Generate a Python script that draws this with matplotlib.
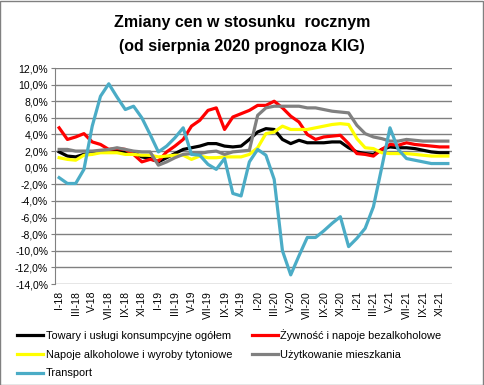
import matplotlib
matplotlib.use('Agg')
import matplotlib.pyplot as plt
from matplotlib.patches import Rectangle

plt.rcParams['font.family'] = ['Liberation Sans', 'DejaVu Sans']

months = ['I', 'II', 'III', 'IV', 'V', 'VI', 'VII', 'VIII', 'IX', 'X', 'XI', 'XII']
years = ['18', '19', '20', '21']
labels = [m + '-' + y for y in years for m in months]

towary = [1.9, 1.4, 1.3, 1.6, 1.7, 2.0, 2.0, 2.0, 1.9, 1.8, 1.3, 1.1,
          0.7, 1.2, 1.7, 2.2, 2.4, 2.6, 2.9, 2.9, 2.6, 2.5, 2.6, 3.4,
          4.3, 4.7, 4.6, 3.4, 2.9, 3.3, 3.0, 3.0, 3.0, 3.1, 3.1, 2.4,
          1.9, 1.7, 1.6, 2.2, 2.5, 2.4, 2.4, 2.3, 2.1, 1.9, 1.8, 1.8]
zywnosc = [4.8, 3.4, 3.7, 4.1, 3.1, 2.8, 2.2, 2.3, 2.2, 1.6, 0.7, 1.0,
           0.8, 1.9, 2.6, 3.4, 5.0, 5.7, 6.9, 7.2, 4.6, 6.1, 6.5, 6.9,
           7.5, 7.5, 8.0, 7.2, 6.2, 5.5, 4.0, 3.4, 3.7, 3.8, 3.9, 2.9,
           1.7, 1.6, 1.4, 2.2, 2.8, 2.7, 3.0, 2.8, 2.7, 2.6, 2.5, 2.5]
napoje = [1.2, 1.0, 0.9, 1.5, 1.6, 1.8, 1.8, 1.8, 1.6, 1.6, 1.5, 1.5,
          1.3, 1.4, 1.5, 1.5, 1.0, 1.4, 1.2, 1.2, 1.3, 1.3, 1.3, 1.6,
          2.4, 4.1, 4.3, 5.0, 4.6, 4.6, 4.6, 4.8, 5.0, 5.2, 5.3, 5.2,
          3.5, 2.4, 2.3, 1.8, 1.7, 1.7, 1.7, 1.6, 1.5, 1.4, 1.4, 1.4]
mieszkanie = [2.2, 2.2, 2.0, 2.0, 2.0, 2.1, 2.2, 2.4, 2.2, 2.0, 1.9, 1.9,
              0.3, 0.7, 1.2, 1.6, 1.7, 1.7, 1.9, 2.0, 1.6, 1.9, 2.0, 2.1,
              6.3, 7.2, 7.4, 7.4, 7.4, 7.4, 7.2, 7.2, 7.0, 6.8, 6.7, 6.6,
              5.1, 4.1, 3.7, 3.5, 3.2, 3.2, 3.4, 3.3, 3.2, 3.2, 3.2, 3.2]
transport = [-1.2, -1.9, -1.9, -0.2, 5.0, 8.6, 10.1, 8.5, 7.0, 7.4, 6.0, 4.0,
             1.9, 2.6, 3.6, 4.8, 1.6, 1.5, 0.4, -0.2, 1.1, -3.1, -3.4, 0.7,
             2.2, 1.5, -1.4, -10.0, -12.9, -10.6, -8.4, -8.4, -7.6, -6.7, -5.9, -9.5,
             -8.5, -7.3, -4.7, 0.0, 4.8, 2.2, 1.1, 0.9, 0.7, 0.5, 0.5, 0.5]

fig = plt.figure(figsize=(4.84, 3.85), dpi=100)
ax = fig.add_axes([55 / 484, 101 / 385, 397 / 484, 216 / 385])

x = range(len(labels))
l1, = ax.plot(x, towary, color='black', lw=2.3, label='Towary i usługi konsumpcyjne ogółem')
l2, = ax.plot(x, zywnosc, color='#ff0000', lw=2.3, label='Żywność i napoje bezalkoholowe')
l3, = ax.plot(x, napoje, color='#ffff00', lw=2.3, label='Napoje alkoholowe i wyroby tytoniowe')
l4, = ax.plot(x, mieszkanie, color='#808080', lw=2.3, label='Użytkowanie mieszkania')
l5, = ax.plot(x, transport, color='#4bacc6', lw=2.3, label='Transport')

ax.set_xlim(-0.5, len(labels) - 0.5)
ax.set_ylim(-14, 12)
yt = list(range(-14, 13, 2))
ax.set_yticks(yt)
ax.set_yticklabels([('%.1f%%' % v).replace('.', ',') for v in yt], fontsize=7.5)
ax.set_xticks(list(x)[::2])
ax.set_xticklabels(labels[::2], rotation=90, fontsize=7.5)
ax.tick_params(axis='x', length=0, pad=5)
ax.tick_params(axis='y', length=3, color='#808080', pad=2)
ax.grid(axis='y', color='#808080', lw=1)
ax.set_axisbelow(True)
for s in ['top', 'right', 'bottom']:
    ax.spines[s].set_visible(False)
ax.spines['left'].set_color('#808080')

fig.text(0.5, 1 - 22 / 385, 'Zmiany cen w stosunku  rocznym', ha='center', va='center',
         fontsize=11.5, fontweight='bold')
fig.text(0.5, 1 - 47 / 385, '(od sierpnia 2020 prognoza KIG)', ha='center', va='center',
         fontsize=11.5, fontweight='bold')

fig.legend(handles=[l1, l3, l5, l2, l4], loc='upper left', ncol=2,
           bbox_to_anchor=(17 / 484, 1 - 329 / 385), frameon=False, fontsize=7.9,
           handlelength=2.4, handletextpad=0.2, columnspacing=1.8, labelspacing=0.8,
           borderaxespad=0, borderpad=0)

fig.patches.append(Rectangle((0.001, 0.001), 0.997, 0.997, transform=fig.transFigure,
                             fill=False, edgecolor='#808080', lw=1))

fig.savefig('out.png', dpi=100)
